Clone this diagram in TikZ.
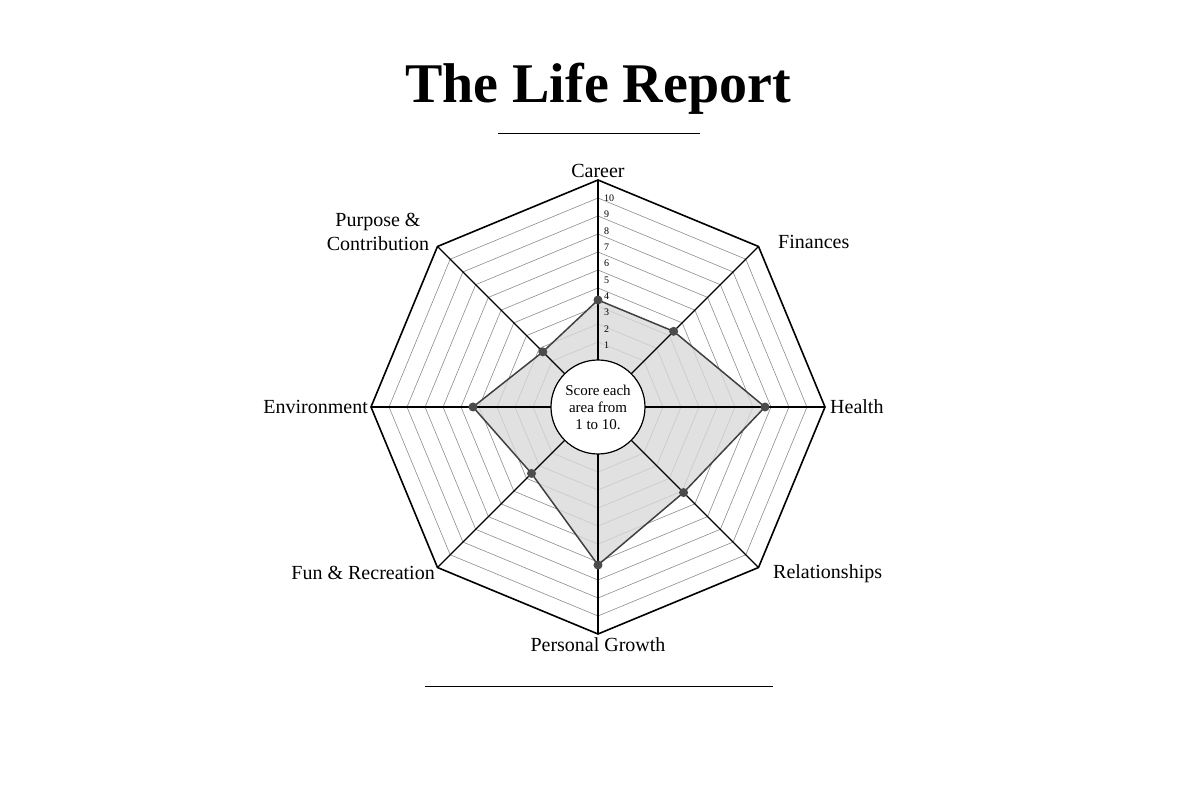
\documentclass[tikz,border=0pt]{standalone}
\usepackage{fontspec}
\setmainfont{Liberation Serif}
\begin{document}
\begin{tikzpicture}[x=1pt,y=1pt,
  axislabel/.style={font=\fontsize{20}{22}\selectfont,align=center,inner sep=0pt},
  ring/.style={draw=black!45,line width=0.6pt},
  spoke/.style={draw=black,line width=1.2pt},
  dot/.style={fill=black!70}]
\useasboundingbox (-598,-393) rectangle (602,407);
% title
\node (title) at (0,318) {\fontsize{56}{60}\selectfont\bfseries The Life Report};
\draw[line width=0.8pt] (-100,274) -- (102,274);
\draw[line width=0.8pt] (-173,-279) -- (175,-279);
% rings
\foreach \r in {65,83,101,119,137,155,173,191,209}
  \draw[ring] (90:\r) \foreach \a in {45,0,-45,-90,-135,180,135} { -- (\a:\r)} -- cycle;
% score polygon
\path (90:107) coordinate (p1)
      (45:107) coordinate (p2)
      (0:167) coordinate (p3)
      (-45:121) coordinate (p4)
      (-90:158) coordinate (p5)
      (-135:94) coordinate (p6)
      (180:125) coordinate (p7)
      (135:78) coordinate (p8);
\fill[black!15,fill opacity=0.8] (p1) -- (p2) -- (p3) -- (p4) -- (p5) -- (p6) -- (p7) -- (p8) -- cycle;
\draw[black!75,line width=1.5pt] (p1) -- (p2) -- (p3) -- (p4) -- (p5) -- (p6) -- (p7) -- (p8) -- cycle;
% spokes and outer octagon
\foreach \a [count=\i] in {90,45,0,-45,-90,-135,180,135} {
  \coordinate (v\i) at (\a:227);
  \draw[spoke] (\a:47) -- (v\i);
}
\draw[line width=1.6pt] (v1) -- (v2) -- (v3) -- (v4) -- (v5) -- (v6) -- (v7) -- (v8) -- cycle;
\foreach \i in {1,...,8}
  \fill[dot] (p\i) circle (4.5pt);
% centre
\node[circle,draw,line width=1.2pt,fill=white,minimum size=94pt,inner sep=0pt,
      align=center,font=\fontsize{15}{17}\selectfont] (centre) at (0,0)
  {Score each\\area from\\1 to 10.};
% scale numbers
\foreach \k in {1,...,10}
  \node[font=\fontsize{10}{10}\selectfont,anchor=west,inner sep=0pt] (n\k) at (6,62+\k*16.3-16.3) {\k};
% labels
\node[axislabel] (career) at (0,236) {Career};
\node[axislabel,anchor=west] at (180,165) {Finances};
\node[axislabel,anchor=west] at (232,0) {Health};
\node[axislabel,anchor=west] at (175,-167) {Relationships};
\node[axislabel] at (0,-238) {Personal Growth};
\node[axislabel,anchor=east] at (-163,-166) {Fun \& Recreation};
\node[axislabel,anchor=east] at (-230,0) {Environment};
\node[axislabel] at (-220,175) {Purpose \&\\[2pt]Contribution};
\end{tikzpicture}
\end{document}
